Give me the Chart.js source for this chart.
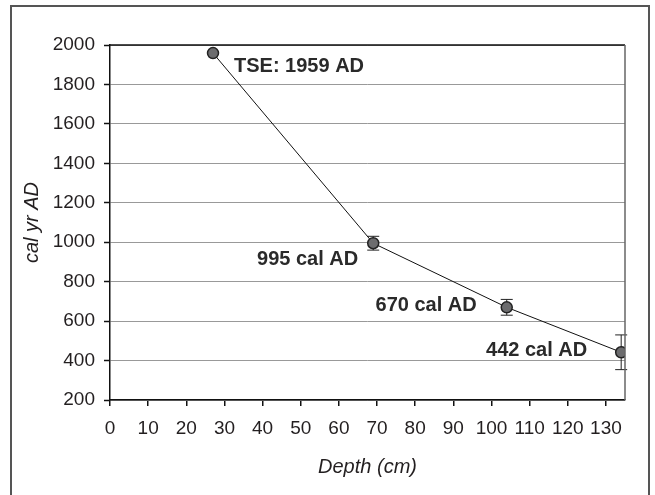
<!DOCTYPE html>
<html>
<head>
<meta charset="utf-8">
<script src="https://cdn.jsdelivr.net/npm/chart.js@4/dist/chart.umd.min.js"></script>
<style>
  html, body { margin: 0; padding: 0; background: #fff; }
  #wrap { position: relative; width: 655px; height: 495px; overflow: hidden; }
  #frame { position: absolute; left: 10px; top: 5px; width: 636px; height: 520px; border: 2px solid #555; }
  canvas { position: absolute; left: 0; top: 0; }
</style>
</head>
<body>
<div id="wrap">
  <div id="frame"></div>
  <canvas id="chart" width="655" height="495"></canvas>
</div>
<script>
// depth (cm) vs calibrated age
const depths = [27, 69, 104, 134];
const ages = [1959, 995, 670, 442];
const ageErrors = [0, 35, 40, 88];
const pointLabels = ['TSE: 1959 AD', '995 cal AD', '670 cal AD', '442 cal AD'];

const textColor = '#231f20';
const fontFamily = '"Liberation Sans", Arial, sans-serif';

// error bars, drawn through the library scales
const errorBars = {
    id: 'errorBars',
    beforeDatasetsDraw(chart) {
        const { ctx, scales: { x, y } } = chart;
        ctx.save();
        ctx.strokeStyle = '#222';
        ctx.lineWidth = 1;
        depths.forEach((d, i) => {
            if (!ageErrors[i]) return;
            const px = x.getPixelForValue(d);
            const top = y.getPixelForValue(ages[i] + ageErrors[i]);
            const bot = y.getPixelForValue(ages[i] - ageErrors[i]);
            ctx.beginPath();
            ctx.moveTo(px, top); ctx.lineTo(px, bot);
            ctx.moveTo(px - 6, top); ctx.lineTo(px + 6, top);
            ctx.moveTo(px - 6, bot); ctx.lineTo(px + 6, bot);
            ctx.stroke();
        });
        ctx.restore();
    }
};

// point labels and plot frame
const labelStyle = [
    { dx: 21, dy: 13, align: 'left' },
    { dx: -15, dy: 16, align: 'right' },
    { dx: -30, dy: -2, align: 'right' },
    { dx: -34, dy: -2, align: 'right' }
];
const annotations = {
    id: 'annotations',
    afterDraw(chart) {
        const { ctx, chartArea: a, scales: { x, y } } = chart;
        ctx.save();
        ctx.lineWidth = 1.5;
        ctx.strokeStyle = '#111';
        ctx.beginPath();
        ctx.moveTo(a.left, a.top); ctx.lineTo(a.right, a.top);
        ctx.stroke();
        ctx.strokeStyle = '#666';
        ctx.beginPath();
        ctx.moveTo(a.right, a.top); ctx.lineTo(a.right, a.bottom);
        ctx.stroke();

        ctx.fillStyle = '#2a2a2a';
        ctx.font = 'bold 20px ' + fontFamily;
        ctx.textBaseline = 'middle';
        pointLabels.forEach((t, i) => {
            const s = labelStyle[i];
            ctx.textAlign = s.align;
            ctx.fillText(t, x.getPixelForValue(depths[i]) + s.dx, y.getPixelForValue(ages[i]) + s.dy);
        });
        ctx.restore();
    }
};

new Chart(document.getElementById('chart'), {
    type: 'scatter',
    data: {
        datasets: [{
            data: depths.map((d, i) => ({ x: d, y: ages[i] })),
            showLine: true,
            borderColor: '#111',
            borderWidth: 1,
            pointRadius: 5.5,
            pointBackgroundColor: '#6c6c6e',
            pointBorderColor: '#222',
            pointBorderWidth: 1.5
        }]
    },
    options: {
        responsive: false,
        animation: false,
        layout: { padding: { top: 45, right: 30, left: 0, bottom: 0 } },
        plugins: { legend: { display: false }, tooltip: { enabled: false } },
        scales: {
            x: {
                type: 'linear',
                min: 0,
                max: 135,
                afterFit: s => { s.height = 95; },
                border: { color: '#111', width: 1.5 },
                grid: { drawOnChartArea: false, color: '#111', tickLength: 6, lineWidth: 1.5 },
                ticks: { stepSize: 10, includeBounds: false, color: textColor, padding: 11, maxRotation: 0,
                    callback: v => String(v),
                    font: { family: fontFamily, size: 19 } },
                title: { display: true, text: 'Depth (cm)', color: textColor, padding: { top: 0, bottom: 16 },
                    font: { family: fontFamily, size: 20, style: 'italic' } }
            },
            y: {
                min: 200,
                max: 2000,
                afterFit: s => { s.width = 110; },
                border: { color: '#111', width: 1.5 },
                grid: { color: '#999', lineWidth: 1, borderDash: [2, 2], tickColor: '#111', tickWidth: 1.5,
                    tickBorderDash: [], tickLength: 6 },
                ticks: { stepSize: 200, color: textColor, padding: 9,
                    callback: v => String(v),
                    font: { family: fontFamily, size: 19 } },
                title: { display: true, text: 'cal yr AD', color: textColor, padding: { top: 20, bottom: 0 },
                    font: { family: fontFamily, size: 20, style: 'italic' } }
            }
        }
    },
    plugins: [errorBars, annotations]
});
</script>
</body>
</html>
